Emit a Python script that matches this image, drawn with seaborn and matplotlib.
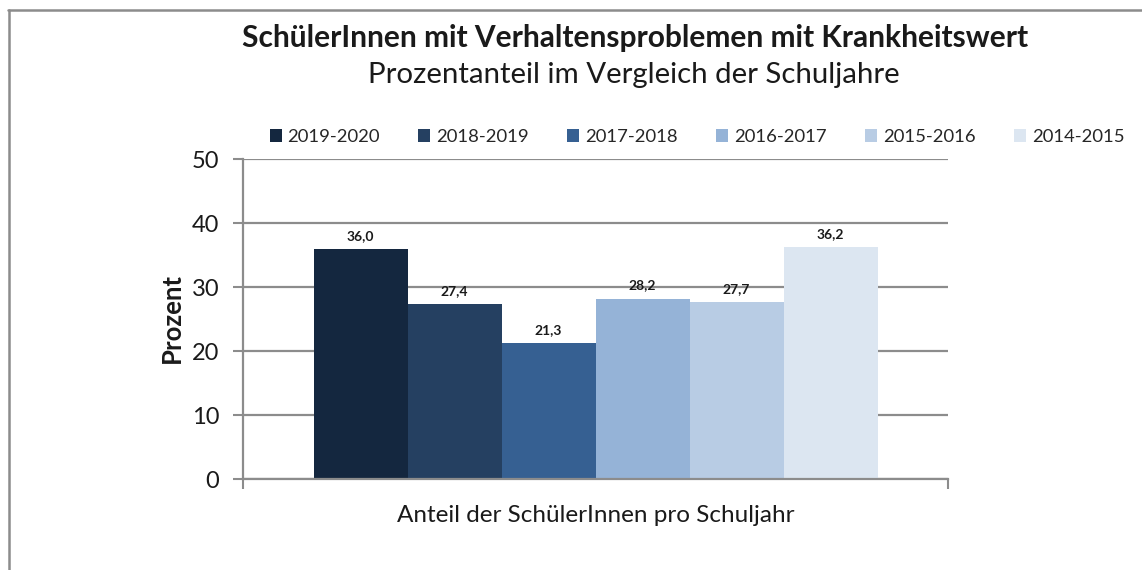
import matplotlib
matplotlib.use("Agg")
import matplotlib.pyplot as plt
import seaborn as sns
import pandas as pd
from matplotlib.patches import Patch
from matplotlib.lines import Line2D

years = ["2019-2020", "2018-2019", "2017-2018", "2016-2017", "2015-2016", "2014-2015"]
values = [36.0, 27.4, 21.3, 28.2, 27.7, 36.2]
category = ["Anteil der SchülerInnen pro Schuljahr"]
colors = ["#14273F", "#254061", "#366092", "#95B3D7", "#B8CCE4", "#DCE6F1"]
yticks = [0, 10, 20, 30, 40, 50]

title = "SchülerInnen mit Verhaltensproblemen mit Krankheitswert"
subtitle = "Prozentanteil im Vergleich der Schuljahre"
ylabel = "Prozent"

sns.set_theme(style="white")
plt.rcParams["font.family"] = ["Lato", "DejaVu Sans"]

df = pd.DataFrame({"cat": category * len(years), "year": years, "val": values})

fig = plt.figure(figsize=(11.42, 5.70), dpi=100)
ax = fig.add_axes([243 / 1142, 1 - 479 / 570, (948 - 243) / 1142, (479 - 159) / 570])

sns.barplot(data=df, x="cat", y="val", hue="year", hue_order=years,
            palette=colors, width=0.8, saturation=1, ax=ax, legend=False,
            linewidth=0, errorbar=None)

ax.set_ylim(0, 50)
ax.set_xlim(-0.5, 0.5)
ax.set_yticks(yticks)
ax.set_yticklabels([str(t) for t in yticks], fontsize=17, color="#1a1a1a")
ax.yaxis.grid(True, color="#8c8c8c", linewidth=1.6)
ax.set_axisbelow(True)
ax.set_xticks([-0.5, 0.5])
ax.set_xticklabels(["", ""])
ax.tick_params(axis="y", direction="out", length=7, width=1.5, color="#8c8c8c", pad=10, left=True)
ax.tick_params(axis="x", direction="out", length=7, width=1.5, color="#8c8c8c", bottom=True)
for s in ["top", "right"]:
    ax.spines[s].set_visible(False)
for s in ["left", "bottom"]:
    ax.spines[s].set_color("#8c8c8c")
    ax.spines[s].set_linewidth(1.6)

ax.set_xlabel("")
fig.text(596 / 1142, 1 - 515 / 570, category[0], ha="center", va="center", fontsize=17.5, color="#1a1a1a")
ax.set_ylabel("")
fig.text(172 / 1142, 1 - 318 / 570, ylabel, ha="center", va="center", rotation=90,
         fontsize=18.5, fontweight="bold", color="#1a1a1a")

for cont in ax.containers:
    for bar in cont:
        v = bar.get_height()
        ax.annotate(f"{v:.1f}".replace(".", ","), (bar.get_x() + bar.get_width() / 2, v),
                    xytext=(0, 5), textcoords="offset points", ha="center", va="bottom",
                    fontsize=10, fontweight="bold", color="#1a1a1a")

fig.text(635 / 1142, 1 - 38 / 570, title, ha="center", va="center", fontsize=21.5, fontweight="bold", color="#1a1a1a")
fig.text(634 / 1142, 1 - 75 / 570, subtitle, ha="center", va="center", fontsize=21.2, color="#1a1a1a")

handles = [Patch(facecolor=c, edgecolor="none") for c in colors]
fig.legend(handles, years, loc="center", bbox_to_anchor=(697 / 1142, 1 - 137 / 570), ncol=6,
           frameon=False, fontsize=13.3, handlelength=0.65, handleheight=0.65, handletextpad=0.3,
           columnspacing=2.1, borderpad=0, borderaxespad=0)

# outer chart frame
fig.add_artist(Line2D([8.5 / 1142, 8.5 / 1142], [0, 1 - 10 / 570], transform=fig.transFigure, color="#8c8c8c", linewidth=1.8))
fig.add_artist(Line2D([8 / 1142, 1], [1 - 10 / 570, 1 - 10 / 570], transform=fig.transFigure, color="#8c8c8c", linewidth=1.8))

fig.savefig("out.png", dpi=100)
